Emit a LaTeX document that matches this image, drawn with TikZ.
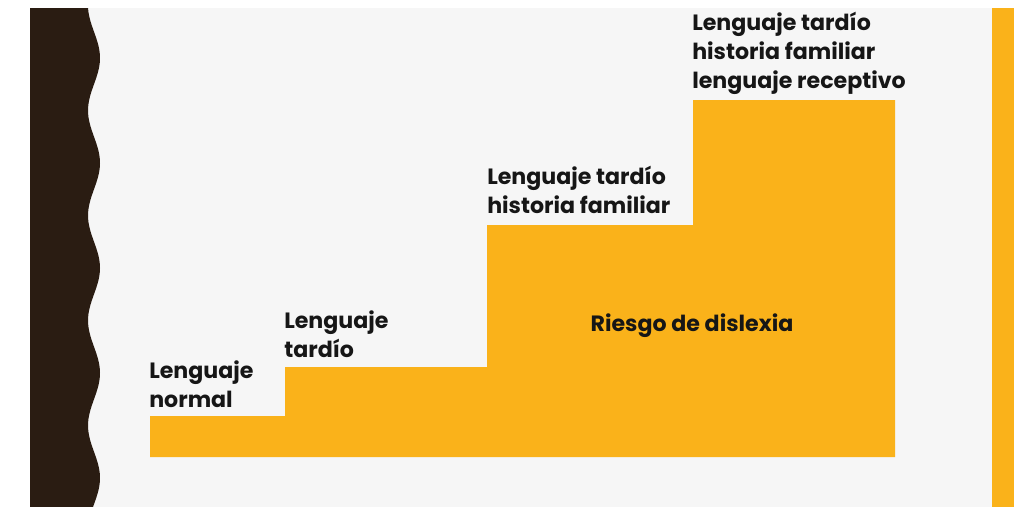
\documentclass[tikz,border=0pt]{standalone}
\usepackage{fontspec}
\setmainfont{Poppins}
\definecolor{stairorange}{RGB}{250,178,26}
\definecolor{edgebrown}{RGB}{42,28,18}
\definecolor{paper}{RGB}{246,246,246}
\definecolor{inkblack}{RGB}{22,22,22}
\tikzset{
  steplabel/.style={anchor=north west, inner sep=0pt, align=left, text=inkblack,
    font=\fontsize{16.6}{21.8}\selectfont\bfseries}
}
\begin{document}
\begin{tikzpicture}[x=0.75pt,y=-0.75pt]
            \useasboundingbox (0,0) rectangle (1014,507);
            \fill[white] (0,0) rectangle (1014,507);
            \fill[paper] (88,8) rectangle (992,507);
            % wavy brown border
            \fill[edgebrown] (30,8)--(30,507)
              --plot[smooth, samples=120, domain=507:8, variable=\t] ({94+6*cos(3.4286*(\t-58))}, \t)--cycle;
            % orange strip on the right
            \fill[stairorange] (992,8) rectangle (1014,507);
            % staircase
            \fill[stairorange] (150,457)--(150,416)--(285,416)--(285,367)--(487,367)--(487,225)
              --(693,225)--(693,100)--(895,100)--(895,457)--cycle;
            \node[steplabel] (normal) at (149,360) {Lenguaje\\normal};
            \node[steplabel] (tardio) at (284,310) {Lenguaje\\tardío};
            \node[steplabel] (familiar) at (487,166) {Lenguaje tardío\\historia familiar};
            \node[steplabel] (receptivo) at (692,12) {Lenguaje tardío\\historia familiar\\lenguaje receptivo};
            \node[steplabel, anchor=center] (riesgo) at (692,326) {Riesgo de dislexia};
        \end{tikzpicture}
\end{document}
